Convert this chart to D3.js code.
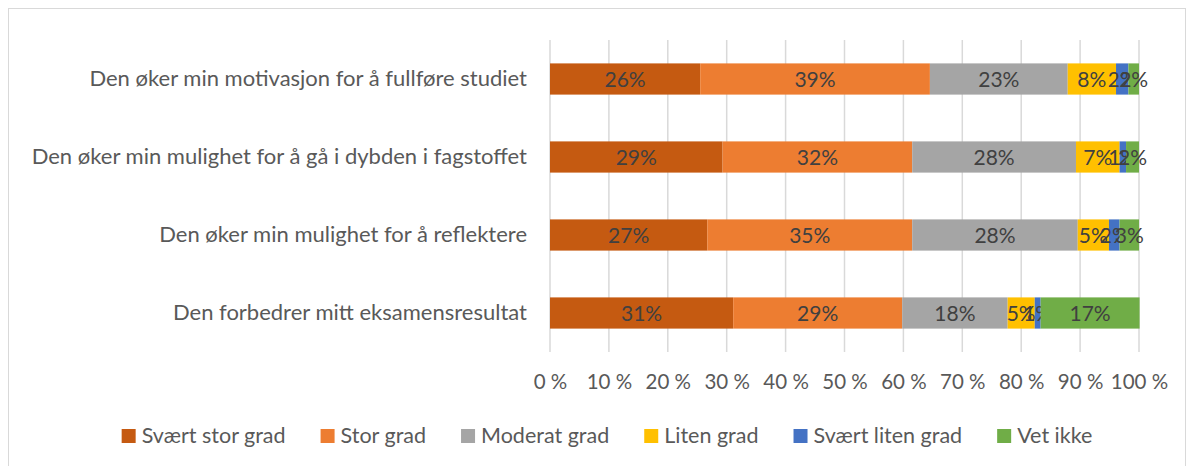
<!DOCTYPE html>
<html>
<head>
<meta charset="utf-8">
<script src="https://cdn.jsdelivr.net/npm/d3@7"></script>
<style>
  body { margin: 0; background: #fff; }
  svg text { font-family: Lato, "Open Sans", sans-serif; }
</style>
</head>
<body>
<svg></svg>
<script>
// data (shares in %)
var categories = [
	"Den øker min motivasjon for å fullføre studiet",
	"Den øker min mulighet for å gå i dybden i fagstoffet",
	"Den øker min mulighet for å reflektere",
	"Den forbedrer mitt eksamensresultat"
];
var seriesNames = ["Svært stor grad", "Stor grad", "Moderat grad", "Liten grad", "Svært liten grad", "Vet ikke"];
var seriesColors = ["#C55A11", "#ED7D31", "#A5A5A5", "#FFC000", "#4472C4", "#70AD47"];
var svaertStor = [25.5, 29.3, 26.7, 31.1];
var stor = [39.0, 32.2, 34.8, 28.7];
var moderat = [23.4, 27.8, 28.1, 17.9];
var liten = [8.2, 7.4, 5.3, 4.6];
var svaertLiten = [2.1, 1.1, 1.8, 1.0];
var vetIkke = [1.8, 2.2, 3.3, 16.8];
var tickValues = [0, 10, 20, 30, 40, 50, 60, 70, 80, 90, 100];

var draw = function() {
	var W = 1192, H = 466;
	var margin = {top: 40, right: 53, bottom: 114, left: 550},
		width = W - margin.left - margin.right,
		height = H - margin.top - margin.bottom;

	var root = d3.select("svg")
		.attr("width", W)
		.attr("height", H);

	// chart border
	root.append("rect")
		.attr("x", 8.5).attr("y", 8.5)
		.attr("width", W - 15).attr("height", H)
		.attr("fill", "none")
		.attr("stroke", "#d9d9d9");

	var svg = root.append("g")
		.attr("transform", "translate(" + margin.left + "," + margin.top + ")");

	var allSeries = [svaertStor, stor, moderat, liten, svaertLiten, vetIkke];
	var rows = categories.map(function(c, i) {
		var row = {cat: c};
		seriesNames.forEach(function(s, j) { row[s] = allSeries[j][i]; });
		return row;
	});
	var stacked = d3.stack().keys(seriesNames)(rows);

	var scaleX = d3.scaleLinear().domain([0, 100]).range([0, width]);
	var scaleY = d3.scaleBand().domain(categories).range([0, height]).paddingInner(0.6).paddingOuter(0.3);

	// gridlines
	svg.selectAll("line.grid")
		.data(tickValues)
		.enter()
		.append("line")
		.attr("class", "grid")
		.attr("x1", function(d) { return scaleX(d); })
		.attr("x2", function(d) { return scaleX(d); })
		.attr("y1", 0)
		.attr("y2", height)
		.attr("stroke", "#d9d9d9")
		.attr("stroke-width", 1.5);

	// x axis
	var xAxis = svg.append("g")
		.attr("transform", "translate(0," + height + ")")
		.call(d3.axisBottom(scaleX).tickValues(tickValues).tickSize(0).tickPadding(22)
			.tickFormat(function(d) { return d + " %"; }));
	xAxis.select(".domain").remove();
	xAxis.selectAll("text")
		.style("font-size", "20.5px")
		.style("font-family", "Lato, sans-serif")
		.attr("fill", "#595959");

	// y axis
	var yAxis = svg.append("g")
		.call(d3.axisLeft(scaleY).tickSize(0).tickPadding(23));
	yAxis.select(".domain").remove();
	yAxis.selectAll("text")
		.style("font-size", "22px")
		.style("font-family", "Lato, sans-serif")
		.attr("fill", "#595959");

	// bars
	var layer = svg.selectAll("g.layer")
		.data(stacked)
		.enter()
		.append("g")
		.attr("class", "layer")
		.attr("fill", function(d, i) { return seriesColors[i]; });

	layer.selectAll("rect")
		.data(function(d) { return d; })
		.enter()
		.append("rect")
		.attr("x", function(d) { return scaleX(d[0]); })
		.attr("y", function(d) { return scaleY(d.data.cat); })
		.attr("width", function(d) { return scaleX(d[1]) - scaleX(d[0]); })
		.attr("height", scaleY.bandwidth());

	// data labels
	layer.selectAll("text")
		.data(function(d) { return d; })
		.enter()
		.append("text")
		.attr("x", function(d) { return (scaleX(d[0]) + scaleX(d[1])) / 2; })
		.attr("y", function(d) { return scaleY(d.data.cat) + scaleY.bandwidth() / 2; })
		.attr("dy", "0.36em")
		.attr("text-anchor", "middle")
		.style("font-size", "21px")
		.attr("fill", "#404040")
		.text(function(d) { return Math.round(d[1] - d[0]) + "%"; });

	// legend
	var gap = 35;
	var legend = root.append("g");
	var x = 0;
	seriesNames.forEach(function(s, i) {
		var item = legend.append("g").attr("transform", "translate(" + x + ",0)");
		item.append("rect")
			.attr("x", 0).attr("y", -14)
			.attr("width", 14).attr("height", 14)
			.attr("fill", seriesColors[i]);
		var t = item.append("text")
			.attr("x", 20).attr("y", 0)
			.style("font-size", "21.5px")
			.attr("fill", "#595959")
			.text(s);
		x += 20 + t.node().getComputedTextLength() + gap;
	});
	var total = x - gap;
	legend.attr("transform", "translate(" + (607 - total / 2) + ",443)");
};

draw();
</script>
</body>
</html>
